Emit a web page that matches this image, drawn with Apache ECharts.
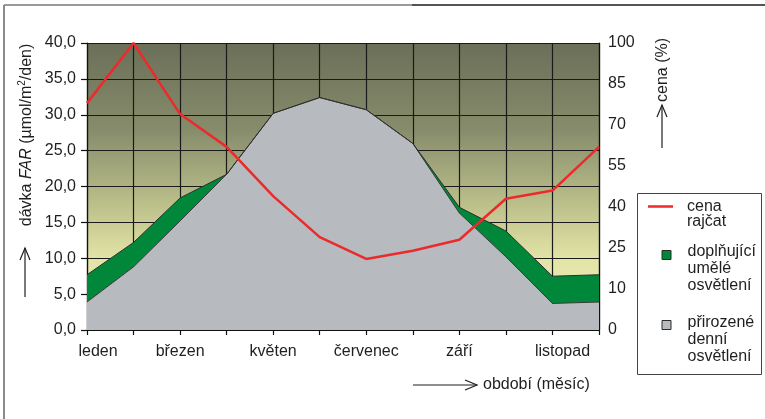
<!DOCTYPE html>
<html>
<head>
<meta charset="utf-8">
<script src="https://cdn.jsdelivr.net/npm/echarts@6/dist/echarts.min.js"></script>
<style>
  html, body { margin: 0; padding: 0; background: #ffffff; }
  #chart { width: 765px; height: 419px; }
</style>
</head>
<body>
<div id="chart"></div>
<script>
// Months of the year
const months = ['leden', 'únor', 'březen', 'duben', 'květen', 'červen',
                'červenec', 'srpen', 'září', 'říjen', 'listopad', 'prosinec'];
// Daily light integral of natural daylight (µmol/m²/den)
const naturalLight = [3.9, 8.8, 15.2, 21.7, 30.2, 32.4, 30.7, 26.0, 16.3, 10.2, 3.7, 3.9];
// Supplemental artificial light stacked on top of daylight
const artificialLight = [3.8, 3.4, 3.2, 0, 0, 0, 0, 0, 0.8, 3.6, 3.8, 3.8];
// Tomato price (%)
const tomatoPrice = [78, 100, 74, 62, 44, 29, 21, 24, 28, 43, 46, 62];
// Tick values of the price axis (lowest one printed as 0)
const priceTicks = [-5, 10, 25, 40, 55, 70, 85, 100];

const FONT = '"Liberation Sans", Arial, Helvetica, sans-serif';
const INK = '#1f1f1f';

const chart = echarts.init(document.getElementById('chart'), null, { renderer: 'canvas' });

// Legend label: one word per line, with a spacer line on top so that the
// first word sits level with the legend icon.
const legendLabel = (name) =>
  '{sp|\u00a0}\n' + name.split(' ').map((w) => '{t|' + w + '}').join('\n');

const legendTextStyle = (spacer, indent, lineH) => ({
  fontFamily: FONT, fontSize: 16, lineHeight: lineH, color: INK, align: 'left',
  rich: {
    sp: { fontSize: 1, lineHeight: spacer, align: 'left' },
    t: { fontFamily: FONT, fontSize: 16, lineHeight: lineH, color: INK,
         align: 'left', padding: [0, 0, 0, indent] }
  }
});

chart.setOption({
  animation: false,
  textStyle: { fontFamily: FONT, color: INK },
  grid: {
    left: 87, right: 166, top: 43, bottom: 89,
    show: true,
    borderWidth: 0,
    backgroundColor: new echarts.graphic.LinearGradient(0, 0, 0, 1, [
      { offset: 0, color: '#6b6f58' },
      { offset: 0.3, color: '#868c6b' },
      { offset: 0.55, color: '#b9bd89' },
      { offset: 0.75, color: '#e2e3a5' },
      { offset: 1, color: '#f3f3c0' }
    ])
  },
  legend: [
    {
      data: [{ name: 'cena rajčat', icon: 'rect', itemStyle: { color: '#ec2a2c', borderWidth: 0 } }],
      left: 648, top: 184, padding: 0,
      itemWidth: 25, itemHeight: 2.5,
      selectedMode: false,
      formatter: legendLabel,
      textStyle: legendTextStyle(15, 9, 15)
    },
    {
      data: [{ name: 'doplňující umělé osvětlení', icon: 'rect',
               itemStyle: { color: '#00873a', borderColor: '#2b2b2b', borderWidth: 1 } }],
      left: 661.5, top: 215.5, padding: 0,
      itemWidth: 9, itemHeight: 9,
      selectedMode: false,
      formatter: legendLabel,
      textStyle: legendTextStyle(28, 11.5, 17)
    },
    {
      data: [{ name: 'přirozené denní osvětlení', icon: 'rect',
               itemStyle: { color: '#b7babe', borderColor: '#2b2b2b', borderWidth: 1 } }],
      left: 661.5, top: 285, padding: 0,
      itemWidth: 9, itemHeight: 9,
      selectedMode: false,
      formatter: legendLabel,
      textStyle: legendTextStyle(29, 11.5, 17)
    }
  ],
  xAxis: {
    type: 'category',
    data: months,
    boundaryGap: false,
    axisLine: { lineStyle: { color: '#111', width: 1.2 } },
    axisTick: { interval: 0, length: 5, lineStyle: { color: '#111', width: 1.2 } },
    splitLine: { show: true, interval: 0, lineStyle: { color: '#1a1a1a', width: 1.2 } },
    axisLabel: {
      interval: 1,
      margin: 14,
      fontSize: 16,
      fontFamily: FONT,
      color: INK,
      formatter: (value, index) => {
        if (index === 0) return '{first|' + value + '}';
        if (index === 10) return '{last|' + value + '}';
        return value;
      },
      rich: {
        first: { fontSize: 16, fontFamily: FONT, color: INK, padding: [0, 0, 0, 22] },
        last: { fontSize: 16, fontFamily: FONT, color: INK, padding: [0, 0, 0, 20] }
      }
    }
  },
  yAxis: [
    {
      type: 'value',
      min: 0, max: 40, interval: 5,
      axisLine: { show: true, lineStyle: { color: '#111', width: 1.2 } },
      axisTick: { show: true, length: 6, lineStyle: { color: '#111', width: 1.2 } },
      splitLine: { show: true, lineStyle: { color: '#1a1a1a', width: 1.2 } },
      axisLabel: {
        margin: 11,
        fontSize: 16,
        fontFamily: FONT,
        color: INK,
        formatter: (v) => v.toFixed(1).replace('.', ',')
      }
    },
    {
      type: 'value',
      position: 'right',
      min: -5, max: 100,
      axisLine: { show: true, lineStyle: { color: '#111', width: 1.2 } },
      axisTick: { show: false },
      splitLine: { show: false },
      axisLabel: {
        customValues: priceTicks,
        margin: 9,
        fontSize: 16,
        fontFamily: FONT,
        color: INK,
        formatter: (v) => (v < 0 ? '0' : String(v))
      }
    }
  ],
  series: [
    {
      name: 'přirozené denní osvětlení',
      type: 'line',
      stack: 'light',
      data: naturalLight,
      symbol: 'none',
      lineStyle: { color: '#3a3a3a', width: 1 },
      itemStyle: { color: '#b7babe' },
      areaStyle: { color: '#b7babe', opacity: 1 },
      z: 3
    },
    {
      name: 'doplňující umělé osvětlení',
      type: 'line',
      stack: 'light',
      data: artificialLight,
      symbol: 'none',
      lineStyle: { color: '#2f2f2f', width: 1 },
      itemStyle: { color: '#00873a' },
      areaStyle: { color: '#00873a', opacity: 1 },
      z: 3
    },
    {
      name: 'cena rajčat',
      type: 'line',
      yAxisIndex: 1,
      data: tomatoPrice,
      symbol: 'none',
      lineStyle: { color: '#ec2a2c', width: 2.5 },
      itemStyle: { color: '#ec2a2c' },
      clip: false,
      z: 5
    }
  ],
  graphic: [
    // outer frame
    { type: 'line', shape: { x1: 4, y1: 5, x2: 412, y2: 5 }, style: { stroke: '#9a9a9a', lineWidth: 2 } },
    { type: 'line', shape: { x1: 412, y1: 5, x2: 765, y2: 5 }, style: { stroke: '#555555', lineWidth: 2 } },
    { type: 'line', shape: { x1: 4, y1: 5, x2: 4, y2: 419 }, style: { stroke: '#8a8a8a', lineWidth: 2 } },
    // legend frame
    { type: 'rect', shape: { x: 637.5, y: 193.5, width: 124, height: 181 },
      style: { fill: 'none', stroke: '#444', lineWidth: 1 } },
    // left axis title with arrow
    { type: 'text', x: 27, y: 135, rotation: Math.PI / 2,
      style: {
        text: '{n|dávka }{i|FAR}{n| (µmol/m}{s|2}{n|/den)}',
        align: 'center', verticalAlign: 'middle', fill: INK,
        font: '16px ' + FONT,
        rich: {
          n: { fontSize: 16, fontFamily: FONT, fill: INK, lineHeight: 20 },
          i: { fontSize: 16, fontFamily: FONT, fontStyle: 'italic', fill: INK, lineHeight: 20 },
          s: { fontSize: 10, fontFamily: FONT, fill: INK, verticalAlign: 'top', lineHeight: 20 }
        }
      }
    },
    { type: 'line', shape: { x1: 25, y1: 297, x2: 25, y2: 248 }, style: { stroke: INK, lineWidth: 1.2 } },
    { type: 'polyline', shape: { points: [[20, 260], [25, 248], [30, 260]] },
      style: { stroke: INK, lineWidth: 1.2, fill: 'none' } },
    // right axis title with arrow
    { type: 'text', x: 663, y: 70, rotation: Math.PI / 2,
      style: { text: 'cena (%)', align: 'center', verticalAlign: 'middle', fill: INK, font: '16px ' + FONT } },
    { type: 'line', shape: { x1: 662, y1: 148, x2: 662, y2: 105 }, style: { stroke: INK, lineWidth: 1.2 } },
    { type: 'polyline', shape: { points: [[657, 117], [662, 105], [667, 117]] },
      style: { stroke: INK, lineWidth: 1.2, fill: 'none' } },
    // x axis title with arrow
    { type: 'line', shape: { x1: 413, y1: 385, x2: 477, y2: 385 }, style: { stroke: INK, lineWidth: 1.2 } },
    { type: 'polyline', shape: { points: [[465, 380], [477, 385], [465, 390]] },
      style: { stroke: INK, lineWidth: 1.2, fill: 'none' } },
    { type: 'text', x: 483, y: 385,
      style: { text: 'období (měsíc)', align: 'left', verticalAlign: 'middle', fill: INK, font: '16px ' + FONT } }
  ]
});
</script>
</body>
</html>
